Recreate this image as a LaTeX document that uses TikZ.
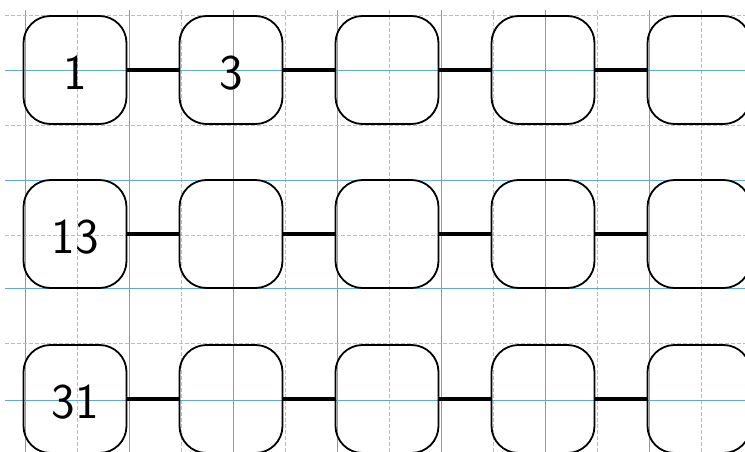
\documentclass[tikz,border=0pt]{standalone}
\usetikzlibrary{positioning}
\definecolor{gridblue}{RGB}{95,170,205}
\definecolor{gridgray}{RGB}{185,190,195}
\tikzset{
  numbox/.style={draw, line width=1.8pt, rounded corners=27pt,
    minimum width=103pt, minimum height=108pt, inner sep=0pt},
  digits/.style={font=\fontsize{50}{50}\selectfont\sffamily, yshift=-3pt},
  link/.style={line width=3.4pt},
  mainline/.style={gridblue, line width=0.9pt},
  subline/.style={gridgray, line width=0.6pt, dash pattern=on 4pt off 2pt}
}
\begin{document}
\begin{tikzpicture}[x=1pt, y=-1pt]
  \useasboundingbox (0,0) rectangle (745,452);
  % grid paper
  \foreach \x in {25,129,...,649} \draw[mainline] (\x,10) -- (\x,452);
  \foreach \x in {77,181,...,701} \draw[subline] (\x,10) -- (\x,452);
  \foreach \y in {70,180,288,400} \draw[mainline] (5,\y) -- (745,\y);
  \foreach \y in {15,125,235,343} \draw[subline] (5,\y) -- (745,\y);
  % boxes in three rows
  \foreach \r/\y in {1/70, 2/234, 3/399}
    \foreach \c in {1,...,5}
      \node[numbox] (b\r\c) at ({75+156*(\c-1)},\y) {};
  % links between neighbours
  \foreach \r in {1,2,3}
    \foreach \c [count=\n from 2] in {1,...,4}
      \draw[link] (b\r\c) -- (b\r\n);
  % given numbers
  \node[digits] (t11) at (b11) {1};
  \node[digits] (t12) at (b12) {3};
  \node[digits] (t21) at (b21) {13};
  \node[digits] (t31) at (b31) {31};
\end{tikzpicture}
\end{document}
